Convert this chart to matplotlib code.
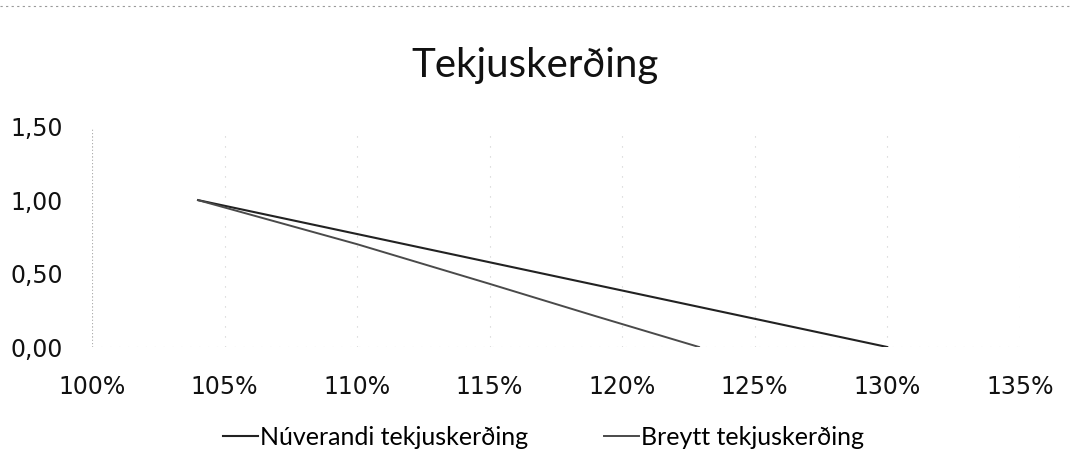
import matplotlib.pyplot as plt
from matplotlib.lines import Line2D
from matplotlib.ticker import FuncFormatter

# Data (x in %, y = reduction factor)
nuverandi_x = [104, 130]
nuverandi_y = [1.00, 0.00]
breytt_x = [104, 110, 115, 119, 122.9]
breytt_y = [1.00, 0.70, 0.43, 0.21, 0.00]
x_ticks = [100, 105, 110, 115, 120, 125, 130, 135]
y_ticks = [0.0, 0.5, 1.0, 1.5]

fig = plt.figure(figsize=(10.7, 4.59), dpi=100)
ax = fig.add_axes([0.086, 0.244, 0.867, 0.48])

ax.plot(nuverandi_x, nuverandi_y, color="#222222", lw=1.5, label="Núverandi tekjuskerðing")
ax.plot(breytt_x, breytt_y, color="#4a4a4a", lw=1.4, label="Breytt tekjuskerðing")

ax.set_xlim(100, 135)
ax.set_ylim(0, 1.5)
ax.set_xticks(x_ticks)
ax.set_yticks(y_ticks)
ax.xaxis.set_major_formatter(FuncFormatter(lambda v, p: f"{v:.0f}%"))
ax.yaxis.set_major_formatter(FuncFormatter(lambda v, p: f"{v:.2f}".replace(".", ",")))
ax.tick_params(length=0, labelsize=17, colors="#111111")
for lab in ax.get_xticklabels() + ax.get_yticklabels():
    lab.set_family("DejaVu Sans")
ax.tick_params(axis="y", pad=21)
ax.tick_params(axis="x", pad=20)

# faint scanned gridlines
ax.grid(axis="x", color="#cccccc", lw=0.8, ls=(0, (1, 8)))
for s in ax.spines.values():
    s.set_visible(False)
ax.axhline(0, color="#bbbbbb", lw=0.8, ls=(0, (1, 7)))
ax.axvline(100, color="#aaaaaa", lw=0.8, ls=(0, (1, 2)))

fig.text(0.5, 0.858, "Tekjuskerðing", ha="center", va="center",
         fontsize=29, family="Lato", color="#111111")

fig.legend(loc="center", bbox_to_anchor=(0.508, 0.047), ncol=2, frameon=False,
           prop={"family": "Lato", "size": 18}, handlelength=1.4,
           handletextpad=0.1, columnspacing=3.0)

# scan artefact at top edge
fig.add_artist(Line2D([0, 1], [0.988, 0.988], transform=fig.transFigure,
                      color="#999999", lw=0.8, ls=(0, (2, 3))))

fig.savefig("out.png", dpi=100, facecolor="white")
